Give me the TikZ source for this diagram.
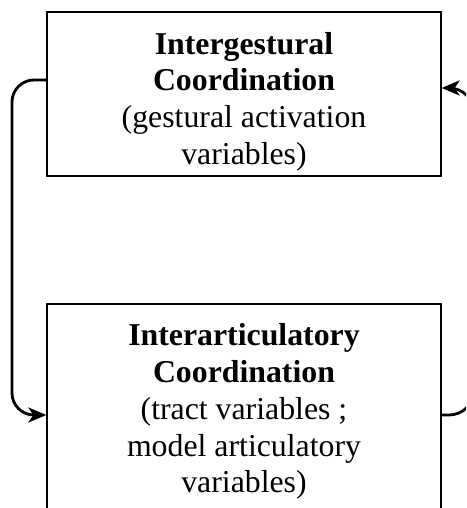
\documentclass[tikz,border=0pt]{standalone}
\usepackage{fontspec}
\setmainfont{Liberation Serif}
\usetikzlibrary{arrows.meta}
\begin{document}
\begin{tikzpicture}[x=1pt,y=-1pt,
  box/.style={draw, line width=1.3pt, minimum width=394pt, minimum height=164pt, inner sep=0pt},
  lbl/.style={align=center, inner sep=0pt, font=\fontsize{31.8}{36.7}\selectfont},
  conn/.style={line width=2.8pt, -{Stealth[length=18pt,width=15pt,inset=5pt]}}]
\useasboundingbox (0,0) rectangle (466,508);
\clip (0,0) rectangle (466,508);
\node[box] (top) at (244,94) {};
\node[box, minimum height=216pt] (bot) at (244,412) {};
\node[lbl] (toptext) at (244,101.5) {\textbf{Intergestural}\\\textbf{Coordination}\\(gestural activation\\variables)};
\node[lbl] (bottext) at (244,411.7) {\textbf{Interarticulatory}\\\textbf{Coordination}\\(tract variables ;\\model articulatory\\variables)};
\coordinate (lc) at (12,250);
\coordinate (rc) at (474,250);
\draw[conn, rounded corners=22pt] ([yshift=14pt]top.west) -| (lc) |- ([yshift=-3pt]bot.west);
\draw[conn, rounded corners=25pt] ([yshift=-3pt]bot.east) -| (rc) |- ([yshift=6pt]top.east);
\end{tikzpicture}
\end{document}
